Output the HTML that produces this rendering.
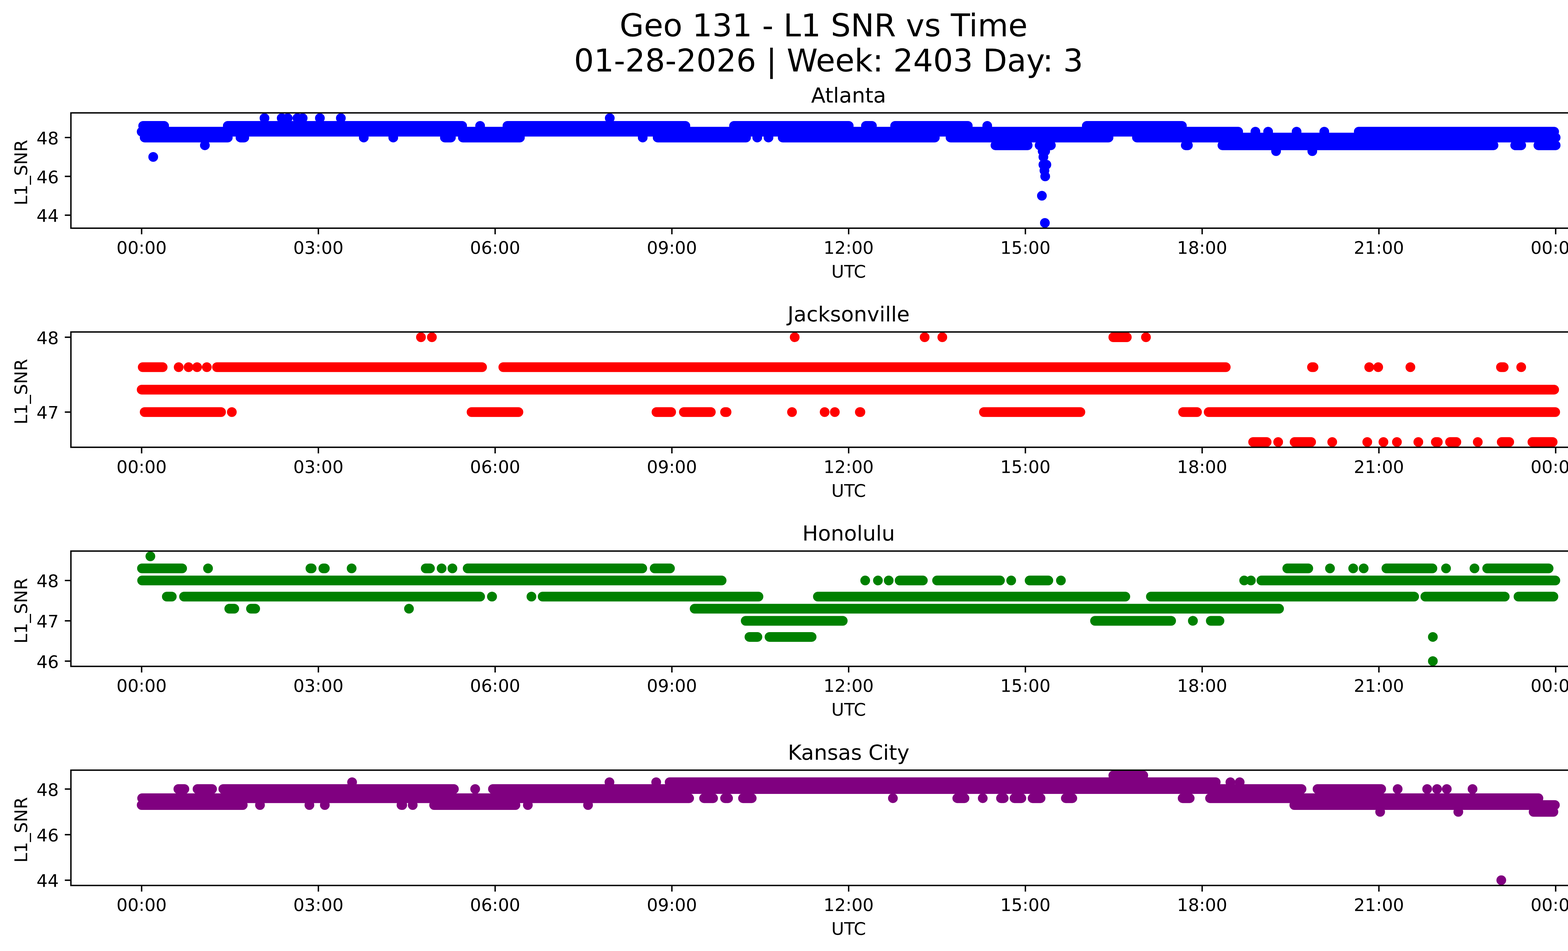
<!DOCTYPE html>
<html><head><meta charset="utf-8"><title>Geo 131 - L1 SNR vs Time</title>
<style>html,body{margin:0;padding:0;background:#fff;overflow:hidden}svg{display:block}text{font-family:'DejaVu Sans', 'Liberation Sans', sans-serif;fill:#000}.t10{font-size:10px}.t12{font-size:12px}.t18{font-size:18px}.m{text-anchor:middle}.e{text-anchor:end}</style></head><body>
<svg width="5225" height="3033" viewBox="0 0 940.5 545.94" preserveAspectRatio="none">
<rect x="-10" y="-10" width="1000" height="600" fill="#fff"/>
<defs><clipPath id="c0"><rect x="40.705" y="64.8" width="892.8" height="66.197"/></clipPath><clipPath id="c1"><rect x="40.705" y="190.574" width="892.8" height="66.197"/></clipPath><clipPath id="c2"><rect x="40.705" y="316.349" width="892.8" height="66.197"/></clipPath><clipPath id="c3"><rect x="40.705" y="442.123" width="892.8" height="66.197"/></clipPath></defs>
<g clip-path="url(#c0)"><path d="M599.742 127.988h.01M598.023 112.386h.01M599.914 101.242h.01M599.484 97.899h.01M598.882 94.555h.01M600.601 94.555h.01M87.939 90.098h.01M598.882 90.098h.01M598.453 86.754h.01M599.914 86.754h.01M732.433 86.754h.01M753.233 86.754h.01M571.371 83.411H589.864M596.727 83.411H603.187M680.604 83.411H681.471M701.655 83.411H857.24M869.689 83.411H873.141M883.012 83.411H892.91M117.592 83.411h.01M681.825 83.411h.01M83.033 78.953H130.749M138.041 78.953H140.204M255.364 78.953H258.816M265.679 78.953H298.422M377.483 78.953H428.208M449.252 78.953H536.575M545.586 78.953H636.278M652.595 78.953H892.91M208.786 78.953h.01M225.718 78.953h.01M368.895 78.953h.01M434.648 78.953h.01M441.094 78.953h.01M81.314 75.61H710.694M779.871 75.61H892.05M720.571 75.61h.01M727.877 75.61h.01M744.208 75.61h.01M760.109 75.61h.01M82.173 72.267H94.22M130.736 72.267H265.263M291.252 72.267H393.398M421.318 72.267H487.153M497.024 72.267H500.475M513.784 72.267H555.484M623.801 72.267H678.394M275.57 72.267h.01M566.651 72.267h.01M151.801 67.809h.01M161.685 67.809h.01M165.123 67.809h.01M170.71 67.809h.01M173.718 67.809h.01M183.602 67.809h.01M195.635 67.809h.01M349.986 67.809h.01" fill="none" stroke="blue" stroke-width="5.58" stroke-linecap="round"/></g>
<path d="M81.287 130.997v3.5M182.741 130.997v3.5M284.196 130.997v3.5M385.65 130.997v3.5M487.105 130.997v3.5M588.559 130.997v3.5M690.014 130.997v3.5M791.468 130.997v3.5M892.923 130.997v3.5M40.705 123.53h-3.5M40.705 101.242h-3.5M40.705 78.953h-3.5" stroke="#000" stroke-width="0.8" fill="none"/>
<rect x="40.705" y="64.8" width="892.8" height="66.197" fill="none" stroke="#000" stroke-width="0.8"/>
<text class="t10 m" x="81.287" y="145.595">00:00</text><text class="t10 m" x="182.741" y="145.595">03:00</text><text class="t10 m" x="284.196" y="145.595">06:00</text><text class="t10 m" x="385.65" y="145.595">09:00</text><text class="t10 m" x="487.105" y="145.595">12:00</text><text class="t10 m" x="588.559" y="145.595">15:00</text><text class="t10 m" x="690.014" y="145.595">18:00</text><text class="t10 m" x="791.468" y="145.595">21:00</text><text class="t10 m" x="892.923" y="145.595">00:00</text>
<text class="t10 e" x="33.705" y="127.33">44</text><text class="t10 e" x="33.705" y="105.041">46</text><text class="t10 e" x="33.705" y="82.752">48</text>
<text class="t10 m" x="487.105" y="159.274">UTC</text>
<text class="t10 m" x="15.43" y="99.069" transform="rotate(-90 15.43 99.069)">L1_SNR</text>
<text class="t12 m" x="487.105" y="58.8">Atlanta</text>
<g clip-path="url(#c1)"><path d="M719.275 253.762H727.025M743.084 253.762H752.552M824.135 253.762H825.267M832.301 253.762H835.924M861.954 253.762H866.265M879.574 253.762H891.191M733.636 253.762h.01M764.664 253.762h.01M784.777 253.762h.01M794.059 253.762h.01M801.795 253.762h.01M814.086 253.762h.01M848.209 253.762h.01M83.033 236.568H126.882M270.664 236.568H297.563M376.796 236.568H385.233M392.525 236.568H408.01M416.161 236.568H417.035M564.753 236.568H620.119M679.068 236.568H687.057M693.748 236.568H892.652M133.063 236.568h.01M454.588 236.568h.01M473.325 236.568h.01M479.17 236.568h.01M493.524 236.568h.01M493.85 236.568h.01M81.314 223.673H892.05M81.916 210.777H93.361M124.547 210.777H276.694M289.384 210.777H703.56M753.054 210.777H753.927M861.524 210.777H863.085M102.551 210.777h.01M108.223 210.777h.01M113.123 210.777h.01M118.709 210.777h.01M288.892 210.777h.01M785.894 210.777h.01M791.051 210.777h.01M809.531 210.777h.01M873.134 210.777h.01M639.015 193.583H646.764M241.619 193.583h.01M247.894 193.583h.01M456.135 193.583h.01M530.723 193.583h.01M540.865 193.583h.01M657.759 193.583h.01" fill="none" stroke="red" stroke-width="5.58" stroke-linecap="round"/></g>
<path d="M81.287 256.771v3.5M182.741 256.771v3.5M284.196 256.771v3.5M385.65 256.771v3.5M487.105 256.771v3.5M588.559 256.771v3.5M690.014 256.771v3.5M791.468 256.771v3.5M892.923 256.771v3.5M40.705 236.568h-3.5M40.705 193.583h-3.5" stroke="#000" stroke-width="0.8" fill="none"/>
<rect x="40.705" y="190.574" width="892.8" height="66.197" fill="none" stroke="#000" stroke-width="0.8"/>
<text class="t10 m" x="81.287" y="271.37">00:00</text><text class="t10 m" x="182.741" y="271.37">03:00</text><text class="t10 m" x="284.196" y="271.37">06:00</text><text class="t10 m" x="385.65" y="271.37">09:00</text><text class="t10 m" x="487.105" y="271.37">12:00</text><text class="t10 m" x="588.559" y="271.37">15:00</text><text class="t10 m" x="690.014" y="271.37">18:00</text><text class="t10 m" x="791.468" y="271.37">21:00</text><text class="t10 m" x="892.923" y="271.37">00:00</text>
<text class="t10 e" x="33.705" y="240.368">47</text><text class="t10 e" x="33.705" y="197.383">48</text>
<text class="t10 m" x="487.105" y="285.048">UTC</text>
<text class="t10 m" x="15.43" y="224.843" transform="rotate(-90 15.43 224.843)">L1_SNR</text>
<text class="t12 m" x="487.105" y="184.574">Jacksonville</text>
<g clip-path="url(#c2)"><path d="M822.423 379.537h.01M430.171 365.649H434.74M441.689 365.649H465.855M822.423 365.649h.01M428.022 356.391H483.715M628.528 356.391H672.205M694.969 356.391H699.95M684.661 356.391h.01M684.73 356.391h.01M131.595 349.447H134.445M144.058 349.447H146.478M398.713 349.447H734.159M234.743 349.447h.01M95.754 342.503H98.604M105.638 342.503H275.577M311.473 342.503H435.342M469.451 342.503H645.904M660.588 342.503H811.686M818.119 342.503H863.687M871.58 342.503H891.621M282.446 342.503h.01M282.343 342.503h.01M305.034 342.503h.01M81.572 333.245H414.198M516.363 333.245H529.699M537.85 333.245H573.963M590.968 333.245H601.726M724.003 333.245H892.738M496.601 333.245h.01M503.907 333.245h.01M510.095 333.245h.01M580.403 333.245h.01M608.939 333.245h.01M714.125 333.245h.01M717.993 333.245h.01M81.486 326.301H104.534M178.181 326.301H178.882M185.572 326.301H186.446M244.363 326.301H246.783M268.429 326.301H368.644M375.764 326.301H384.545M738.872 326.301H750.919M795.772 326.301H822.172M853.617 326.301H888.87M119.397 326.301h.01M201.824 326.301h.01M253.48 326.301h.01M259.669 326.301h.01M763.375 326.301h.01M776.697 326.301h.01M782.714 326.301h.01M829.987 326.301h.01M846.318 326.301h.01M86.306 319.358h.01" fill="none" stroke="green" stroke-width="5.58" stroke-linecap="round"/></g>
<path d="M81.287 382.546v3.5M182.741 382.546v3.5M284.196 382.546v3.5M385.65 382.546v3.5M487.105 382.546v3.5M588.559 382.546v3.5M690.014 382.546v3.5M791.468 382.546v3.5M892.923 382.546v3.5M40.705 379.537h-3.5M40.705 356.391h-3.5M40.705 333.245h-3.5" stroke="#000" stroke-width="0.8" fill="none"/>
<rect x="40.705" y="316.349" width="892.8" height="66.197" fill="none" stroke="#000" stroke-width="0.8"/>
<text class="t10 m" x="81.287" y="397.144">00:00</text><text class="t10 m" x="182.741" y="397.144">03:00</text><text class="t10 m" x="284.196" y="397.144">06:00</text><text class="t10 m" x="385.65" y="397.144">09:00</text><text class="t10 m" x="487.105" y="397.144">12:00</text><text class="t10 m" x="588.559" y="397.144">15:00</text><text class="t10 m" x="690.014" y="397.144">18:00</text><text class="t10 m" x="791.468" y="397.144">21:00</text><text class="t10 m" x="892.923" y="397.144">00:00</text>
<text class="t10 e" x="33.705" y="383.336">46</text><text class="t10 e" x="33.705" y="360.19">47</text><text class="t10 e" x="33.705" y="337.044">48</text>
<text class="t10 m" x="487.105" y="410.822">UTC</text>
<text class="t10 m" x="15.43" y="350.617" transform="rotate(-90 15.43 350.617)">L1_SNR</text>
<text class="t12 m" x="487.105" y="310.349">Honolulu</text>
<g clip-path="url(#c3)"><path d="M861.703 505.311h.01M880.261 466.064H891.621M792.169 466.064h.01M837.035 466.064h.01M81.314 462.139H139.345M230.439 462.139H230.882M249.176 462.139H295.844M742.912 462.139H892.48M149.222 462.139h.01M177.586 462.139h.01M186.439 462.139h.01M236.892 462.139h.01M302.971 462.139h.01M337.523 462.139h.01M81.572 458.214H395.547M404.128 458.214H409.299M416.161 458.214H417.894M426.475 458.214H431.474M549.454 458.214H553.593M574.551 458.214H576.112M582.287 458.214H586.254M592.687 458.214H597.256M611.768 458.214H615.478M678.81 458.214H682.863M694.539 458.214H883.026M512.502 458.214h.01M564.072 458.214h.01M102.372 452.981H105.824M113.374 452.981H121.725M128.157 452.981H260.535M282.937 452.981H747.051M756.234 452.981H792.777M272.733 452.981h.01M802.225 452.981h.01M819.157 452.981h.01M824.83 452.981h.01M830.417 452.981h.01M845.2 452.981h.01M384.359 449.057H697.801M202.082 449.057h.01M349.814 449.057h.01M376.631 449.057h.01M706.218 449.057h.01M711.547 449.057h.01M639.015 445.132H656.218" fill="none" stroke="purple" stroke-width="5.58" stroke-linecap="round"/></g>
<path d="M81.287 508.32v3.5M182.741 508.32v3.5M284.196 508.32v3.5M385.65 508.32v3.5M487.105 508.32v3.5M588.559 508.32v3.5M690.014 508.32v3.5M791.468 508.32v3.5M892.923 508.32v3.5M40.705 505.311h-3.5M40.705 479.146h-3.5M40.705 452.981h-3.5" stroke="#000" stroke-width="0.8" fill="none"/>
<rect x="40.705" y="442.123" width="892.8" height="66.197" fill="none" stroke="#000" stroke-width="0.8"/>
<text class="t10 m" x="81.287" y="522.918">00:00</text><text class="t10 m" x="182.741" y="522.918">03:00</text><text class="t10 m" x="284.196" y="522.918">06:00</text><text class="t10 m" x="385.65" y="522.918">09:00</text><text class="t10 m" x="487.105" y="522.918">12:00</text><text class="t10 m" x="588.559" y="522.918">15:00</text><text class="t10 m" x="690.014" y="522.918">18:00</text><text class="t10 m" x="791.468" y="522.918">21:00</text><text class="t10 m" x="892.923" y="522.918">00:00</text>
<text class="t10 e" x="33.705" y="509.11">44</text><text class="t10 e" x="33.705" y="482.945">46</text><text class="t10 e" x="33.705" y="456.781">48</text>
<text class="t10 m" x="487.105" y="536.597">UTC</text>
<text class="t10 m" x="15.43" y="476.391" transform="rotate(-90 15.43 476.391)">L1_SNR</text>
<text class="t12 m" x="487.105" y="436.123">Kansas City</text>
<text class="t18" x="355.622" y="20.877">Geo 131 - L1 SNR vs Time</text>
<text class="t18" x="329.457" y="41.128">01-28-2026 | Week: 2403 Day: 3</text>
</svg>
</body></html>
